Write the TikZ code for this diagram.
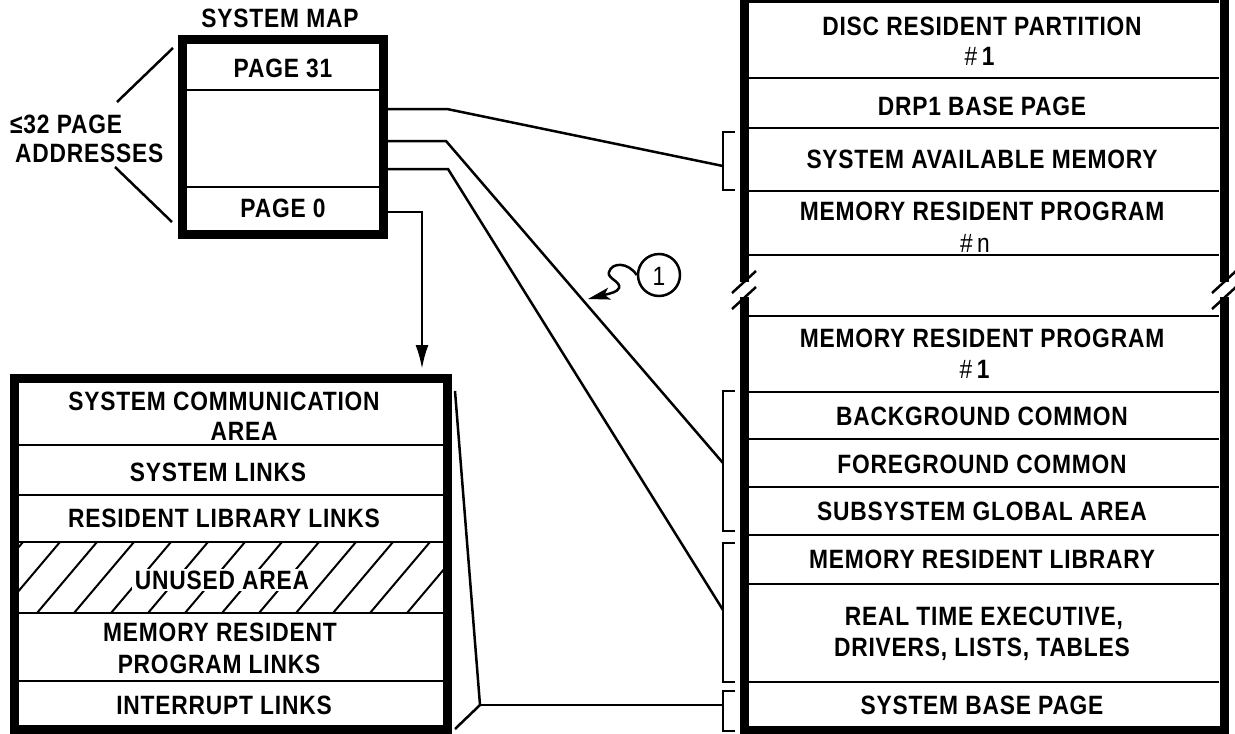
\documentclass[tikz,border=0pt]{standalone}
\usepackage{fontspec}
\setmainfont{Liberation Sans}[FakeStretch=0.86,LetterSpace=3]
\usetikzlibrary{arrows.meta}
\begin{document}
\begin{tikzpicture}[x=1pt,y=-1pt,
  border/.style={line width=9pt},
  divider/.style={line width=2.6pt},
  conn/.style={line width=2.5pt},
  brk/.style={line width=2.5pt},
  hatchline/.style={line width=2pt},
  lab/.style={font=\bfseries\fontsize{26.5}{30}\selectfont, inner sep=0pt, anchor=base},
  hashlab/.style={font=\fontsize{26.5}{30}\selectfont, inner sep=0pt, anchor=base}]
\useasboundingbox (0,0) rectangle (1235,734);

% ---------------- system map ----------------
\node[lab] (smtitle) at (280,27) {SYSTEM MAP};
\draw[border] (182.5,39.5) rectangle (383.5,234.5);
\draw[divider] (187,90) -- (379,90);
\draw[divider] (187,187) -- (379,187);
\node[lab] (p31) at (283,77) {PAGE 31};
\node[lab] (p0) at (283,217) {PAGE 0};
\node[lab, anchor=base west] (le1) at (10,133) {≤32 PAGE};
\node[lab, anchor=base west] (le2) at (15,162) {ADDRESSES};
\coordinate (smTL) at (173,48);
\coordinate (smBL) at (172,222);
\coordinate (leT) at (117,102);
\coordinate (leB) at (115,167);
\draw[conn] (smTL) -- (leT);
\draw[conn] (leB) -- (smBL);

% ---------------- bottom-left box ----------------
\begin{scope}
  \clip (19,542) rectangle (443,613);
  \foreach \i in {-3,...,13} {
    \draw[hatchline] ({\i*37},613) -- ({\i*37+60},542);
  }
\end{scope}
\draw[border] (14.5,378) rectangle (447.5,729);
\foreach \yy in {445,495,542,613,681} {
  \draw[divider] (19,\yy) -- (443,\yy);
}
\node[lab] (sca1) at (224,410) {SYSTEM COMMUNICATION};
\node[lab] (sca2) at (244,440) {AREA};
\node[lab] (sl) at (218,481) {SYSTEM LINKS};
\node[lab] (rll) at (224,527) {RESIDENT LIBRARY LINKS};
\node[lab, fill=white, inner xsep=3pt, inner ysep=2pt] (ua) at (222,589) {UNUSED AREA};
\node[lab] (mrp1) at (220,641) {MEMORY RESIDENT};
\node[lab] (mrp2) at (219,673) {PROGRAM LINKS};
\node[lab] (il) at (224,714) {INTERRUPT LINKS};

% ---------------- right memory box ----------------
\draw[border] (744.5,0) -- (744.5,282);
\draw[border] (744.5,297) -- (744.5,735);
\draw[border] (1224,0) -- (1224,282);
\draw[border] (1224,297) -- (1224,735);
\draw[border] (740,730.5) -- (1229,730.5);
\foreach \yy in {1.5,78,128,191,255,316,392,439,487,535,584,682} {
  \draw[divider] (749,\yy) -- (1219,\yy);
}
% break marks
\draw[brk] (732,293) -- (756,271);
\draw[brk] (732,309) -- (756,287);
\draw[brk] (1212,293) -- (1236,271);
\draw[brk] (1212,309) -- (1236,287);

\node[lab] (drp) at (982,35) {DISC RESIDENT PARTITION};
\node[hashlab] (drpn) at (980,65) {\#\,\textbf{1}};
\node[lab] (drpb) at (982,115) {DRP1 BASE PAGE};
\node[lab] (sam) at (982,168) {SYSTEM AVAILABLE MEMORY};
\node[lab] (mrpn) at (982,220) {MEMORY RESIDENT PROGRAM};
\node[hashlab] (mrpnn) at (975,252) {\#\,n};
\node[lab] (mrp1r) at (982,347) {MEMORY RESIDENT PROGRAM};
\node[hashlab] (mrp1n) at (975,378) {\#\,\textbf{1}};
\node[lab] (bgc) at (982,425) {BACKGROUND COMMON};
\node[lab] (fgc) at (982,473) {FOREGROUND COMMON};
\node[lab] (sga) at (982,520) {SUBSYSTEM GLOBAL AREA};
\node[lab] (mrl) at (982,568) {MEMORY RESIDENT LIBRARY};
\node[lab] (rte1) at (984,625) {REAL TIME EXECUTIVE,};
\node[lab] (rte2) at (982,656) {DRIVERS, LISTS, TABLES};
\node[lab] (sbp) at (982,714) {SYSTEM BASE PAGE};

% brackets
\draw[brk] (735,132) -- (723,132) -- (723,190) -- (735,190);
\draw[brk] (735,391) -- (723,391) -- (723,531) -- (735,531);
\draw[brk] (735,543) -- (723,543) -- (723,682) -- (735,682);
\draw[brk] (735,691) -- (723,691) -- (723,731) -- (735,731);

% ---------------- connectors ----------------
\coordinate (a0) at (388,109);
\coordinate (a1) at (447,109);
\coordinate (a2) at (723,166);
\coordinate (b0) at (388,141);
\coordinate (b1) at (446,141);
\coordinate (b2) at (723,463);
\coordinate (c0) at (388,169);
\coordinate (c1) at (448,169);
\coordinate (c2) at (723,610);
\coordinate (d0) at (388,212);
\coordinate (d1) at (422,212);
\coordinate (d2) at (422,369);
\coordinate (e0) at (455,391);
\coordinate (e1) at (480,705);
\coordinate (e2) at (455,729);
\coordinate (e3) at (723,705);

\draw[conn] (a0) -- (a1) -- (a2);
\draw[conn] (b0) -- (b1) -- (b2);
\draw[conn] (c0) -- (c1) -- (c2);
\draw[conn, -{Latex[length=24pt,width=13pt]}] (d0) -- (d1) -- (d2);
\draw[conn] (e0) -- (e1) -- (e2);
\draw[conn] (e1) -- (e3);

% note marker (1)
\node[draw, circle, line width=2.5pt, minimum size=42pt, inner sep=0pt] (note) at (659,275) {};
\node[hashlab] (notet) at (659,285) {1};
\coordinate (ntip) at (588,299);
\draw[conn, -{Stealth[length=22pt,width=12pt,inset=5pt]}] (note.west) .. controls (628,262) and (612,262) .. (609,272) .. controls (607,279) and (621,281) .. (619,288) .. controls (617,292) and (612,293) .. (ntip);
\end{tikzpicture}
\end{document}
